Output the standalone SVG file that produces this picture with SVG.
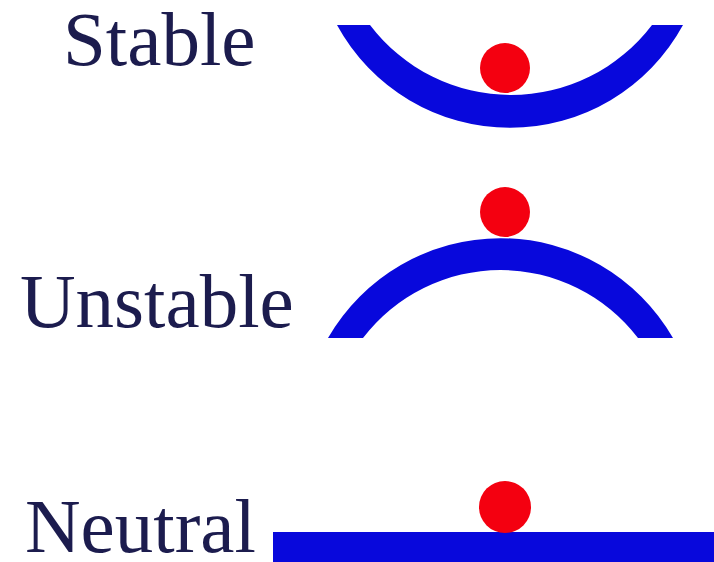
<svg xmlns="http://www.w3.org/2000/svg" width="714" height="562" viewBox="0 0 714 562">
<style>
.lbl{font-family:"Liberation Serif","Times New Roman",serif;font-size:77px;fill:#1c1c4e}
.surf{fill:#0808dc}
.ball{fill:#f40010}
</style>
<rect width="714" height="562" fill="#ffffff"/>
<g id="stable">
<text class="lbl" x="63" y="65">Stable</text>
<path class="surf" d="M337,25 A197,197 0 0 0 683,25 L652,25 A177,177 0 0 1 370,25 Z"/>
<circle class="ball" cx="505" cy="68" r="25"/>
</g>
<g id="unstable">
<text class="lbl" x="20" y="327">Unstable</text>
<path class="surf" d="M328,338 A199,199 0 0 1 673,338 L638,338 A173,173 0 0 0 363,338 Z"/>
<circle class="ball" cx="505" cy="212" r="25"/>
</g>
<g id="neutral">
<text class="lbl" x="25" y="552">Neutral</text>
<rect class="surf" x="273" y="532" width="441" height="30"/>
<circle class="ball" cx="505" cy="507" r="26"/>
</g>
<g id="connectors"/>
</svg>
